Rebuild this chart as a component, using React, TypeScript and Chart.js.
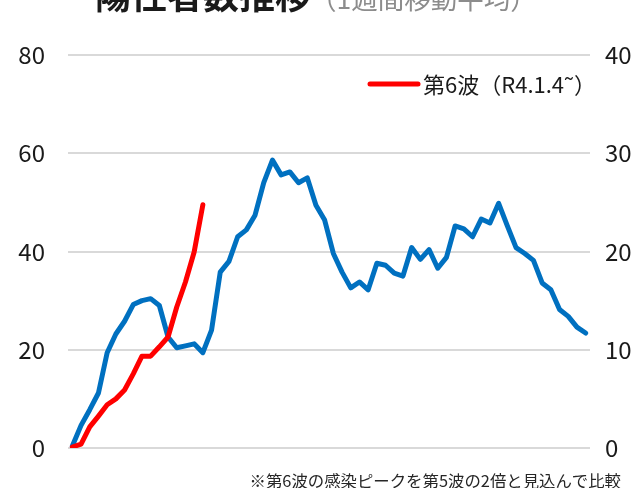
import React, { useEffect, useRef } from "react";
import { Chart, registerables } from "chart.js";

Chart.register(...registerables);

// 第5波 (右軸, 0-40) 1週間移動平均
const wave5: number[] = [
  0.2, 2.3, 3.9, 5.6, 9.7, 11.6, 12.9, 14.6, 15.0, 15.2,
  14.5, 11.3, 10.2, 10.4, 10.6, 9.7, 12.0, 17.9, 19.0, 21.5,
  22.2, 23.7, 27.0, 29.3, 27.8, 28.1, 27.0, 27.5, 24.7, 23.2,
  19.8, 17.9, 16.3, 16.9, 16.1, 18.8, 18.6, 17.8, 17.5, 20.4,
  19.2, 20.2, 18.3, 19.4, 22.6, 22.3, 21.5, 23.3, 22.9, 24.9,
  22.6, 20.4, 19.8, 19.1, 16.8, 16.1, 14.1, 13.4, 12.3, 11.7,
];

// 第6波 (左軸, 0-80)
const wave6: number[] = [
  0.2, 0.8, 4.3, 6.5, 8.8, 10.0, 11.8, 15.1, 18.7, 18.7,
  20.6, 22.6, 28.7, 33.8, 39.9, 49.5,
];

const days: string[] = Array.from({ length: wave5.length }, (_, i) => String(i + 1));

const leftTicks = [0, 20, 40, 60, 80];
const rightTicks = [0, 10, 20, 30, 40];

const titleMain = "陽性者数推移";
const titleSub = "（1週間移動平均）";
const legendLabel = "第6波（R4.1.4˜）";
const footnote = "※第6波の感染ピークを第5波の2倍と見込んで比較";

const FONT = '"Noto Sans CJK JP", "Noto Sans", sans-serif';

const decorPlugin = {
  id: "decor",
  afterDraw(chart: any) {
    const ctx = chart.ctx as CanvasRenderingContext2D;
    ctx.save();
    // title
    ctx.textBaseline = "alphabetic";
    ctx.textAlign = "left";
    ctx.font = `bold 36px ${FONT}`;
    ctx.fillStyle = "#1a1a1a";
    const x0 = 95;
    ctx.fillText(titleMain, x0, 9);
    const w = ctx.measureText(titleMain).width;
    ctx.font = `26.5px ${FONT}`;
    ctx.fillStyle = "#8c8c8c";
    ctx.fillText(titleSub, x0 + w - 1, 9);

    // legend
    ctx.strokeStyle = "#FF0000";
    ctx.lineWidth = 5;
    ctx.lineCap = "round";
    ctx.beginPath();
    ctx.moveTo(370, 84);
    ctx.lineTo(418, 84);
    ctx.stroke();
    ctx.font = `22px ${FONT}`;
    ctx.fillStyle = "#1a1a1a";
    ctx.textBaseline = "middle";
    ctx.fillText(legendLabel, 423, 85);

    // footnote
    ctx.font = `16.4px ${FONT}`;
    ctx.textAlign = "right";
    ctx.fillStyle = "#262626";
    ctx.fillText(footnote, 621, 481);
    ctx.restore();
  },
};

export default function App() {
  const ref = useRef<HTMLCanvasElement | null>(null);

  useEffect(() => {
    if (!ref.current) return;
    const chart = new Chart(ref.current, {
      type: "line",
      data: {
        labels: days,
        datasets: [
          {
            label: legendLabel,
            data: wave6,
            yAxisID: "y",
            borderColor: "#FF0000",
            backgroundColor: "#FF0000",
            borderWidth: 5,
            pointRadius: 0,
            tension: 0,
            borderJoinStyle: "round",
            borderCapStyle: "round",
          },
          {
            label: "第5波",
            data: wave5,
            yAxisID: "y1",
            borderColor: "#0070C0",
            backgroundColor: "#0070C0",
            borderWidth: 5,
            pointRadius: 0,
            tension: 0,
            borderJoinStyle: "round",
            borderCapStyle: "round",
          },
        ],
      },
      options: {
        animation: false,
        responsive: true,
        maintainAspectRatio: false,
        layout: { padding: { top: 55, bottom: 40, left: 0, right: 0 } },
        plugins: {
          legend: { display: false },
          title: { display: false },
          tooltip: { enabled: false },
        },
        scales: {
          x: {
            type: "category",
            display: false,
            offset: true,
          },
          y: {
            position: "left",
            min: 0,
            max: 80,
            afterFit: (s: any) => {
              s.width = 68;
            },
            afterBuildTicks: (s: any) => {
              s.ticks = leftTicks.map((v) => ({ value: v }));
            },
            border: { display: false },
            grid: { color: "#d9d9d9", lineWidth: 2, drawTicks: false },
            ticks: {
              padding: 23,
              color: "#1a1a1a",
              font: { size: 24, family: FONT },
            },
          },
          y1: {
            position: "right",
            min: 0,
            max: 40,
            afterFit: (s: any) => {
              s.width = 51;
            },
            afterBuildTicks: (s: any) => {
              s.ticks = rightTicks.map((v) => ({ value: v }));
            },
            border: { display: false },
            grid: { display: false, drawTicks: false },
            ticks: {
              padding: 15,
              color: "#1a1a1a",
              font: { size: 24, family: FONT },
            },
          },
        },
      },
      plugins: [decorPlugin],
    });
    return () => chart.destroy();
  }, []);

  return (
    <div style={{ position: "fixed", left: 0, top: 0, width: 641, height: 488 }}>
      <canvas ref={ref} />
    </div>
  );
}
